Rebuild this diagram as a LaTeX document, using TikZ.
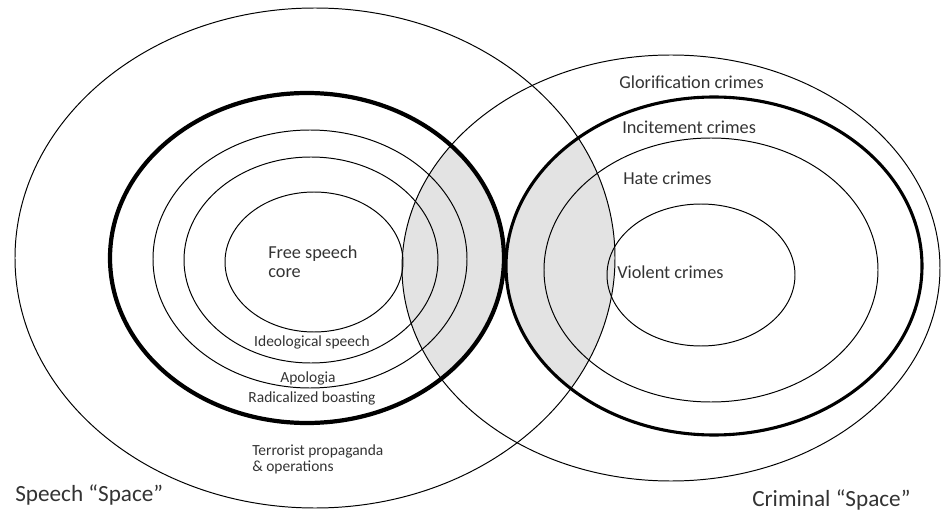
\documentclass[tikz,border=0pt]{standalone}
\usepackage{fontspec}
\setmainfont{Carlito}
\usepackage{tikz}
\definecolor{lensgray}{gray}{0.89}
\definecolor{labelgray}{gray}{0.2}

\begin{document}
\begin{tikzpicture}[x=0.025cm,y=-0.025cm,
    ring/.style={line width=0.7pt},
    boldring/.style={line width=3pt},
    smalllabel/.style={inner sep=0pt,text=labelgray,font=\fontsize{11}{11.5}\selectfont},
    midlabel/.style={inner sep=0pt,text=labelgray,font=\fontsize{13}{13.5}\selectfont},
    spacelabel/.style={inner sep=0pt,text=labelgray,font=\fontsize{16.5}{18}\selectfont}]
                \useasboundingbox
                    (0,0) rectangle (943,512);
                % grey overlaps
                \begin{scope}
                    \clip (671,268) ellipse[x radius=269, y radius=213];
                    \fill[color=lensgray]
                        (307,258) ellipse[x radius=197, y radius=165];
                \end{scope}
                \begin{scope}
                    \clip (315,258) ellipse[x radius=300, y radius=250];
                    \fill[color=lensgray]
                        (714,266) ellipse[x radius=208, y radius=169];
                \end{scope}
                % speech space
                \draw[ring]
                    (315,258) ellipse[x radius=300, y radius=250];
                \draw[boldring]
                    (307,258) ellipse[x radius=197, y radius=165];
                \draw[ring]
                    (310,259) ellipse[x radius=157, y radius=129];
                \draw[ring]
                    (311,260) ellipse[x radius=127, y radius=103];
                \draw[ring]
                    (314,262) ellipse[x radius=89, y radius=70];
                % criminal space
                \draw[ring]
                    (671,268) ellipse[x radius=269, y radius=213];
                \draw[boldring,line width=2.2pt]
                    (714,266) ellipse[x radius=208, y radius=169];
                \draw[ring]
                    (711,270) ellipse[x radius=167, y radius=132];
                \draw[ring]
                    (701,275) ellipse[x radius=94, y radius=71];
                % labels
                \node[midlabel,anchor=west,align=left] (core)
                    at (268,262) {Free speech\\core};
                \node[smalllabel] (ideo)
                    at (312,342) {Ideological speech};
                \node[smalllabel] (apol)
                    at (308,378) {Apologia};
                \node[smalllabel] (boast)
                    at (312,398) {Radicalized boasting};
                \node[smalllabel,anchor=west,align=left] (terror)
                    at (252,459) {Terrorist propaganda\\\& operations};
                \node[spacelabel,anchor=west] (speech)
                    at (15,495) {Speech “Space”};
                \node[midlabel,anchor=west] (glor)
                    at (619,82) {Glorification crimes};
                \node[midlabel,anchor=west] (incite)
                    at (622,127) {Incitement crimes};
                \node[midlabel,anchor=west] (hate)
                    at (623,178) {Hate crimes};
                \node[midlabel,anchor=west] (violent)
                    at (617,272) {Violent crimes};
                \node[spacelabel,anchor=west] (criminal)
                    at (752,500) {Criminal “Space”};
            \end{tikzpicture}
\end{document}
